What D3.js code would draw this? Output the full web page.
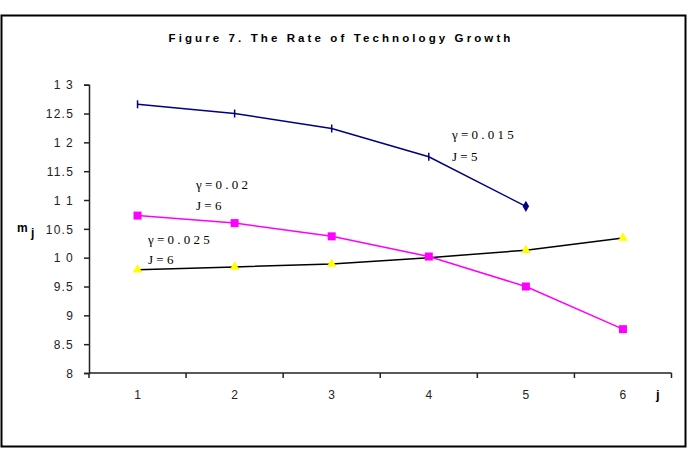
<!DOCTYPE html>
<html>
<head>
<meta charset="utf-8">
<script src="https://cdn.jsdelivr.net/npm/d3@7"></script>
<style>
  body { margin: 0; background: #fff; }
  svg { display: block; }
</style>
</head>
<body>
<svg width="688" height="450"></svg>
<script>
// Data
const periods = [1, 2, 3, 4, 5, 6];
const yTicks = [8, 8.5, 9, 9.5, 10, 10.5, 11, 11.5, 12, 12.5, 13];
const yTickLabels = ["8", "8.5", "9", "9.5", "1 0", "10.5", "1 1", "11.5", "1 2", "12.5", "1 3"];
const gamma015 = [12.66, 12.5, 12.24, 11.75, 10.89];
const gamma02 = [10.73, 10.6, 10.37, 10.02, 9.5, 8.76];
const gamma025 = [9.79, 9.84, 9.89, 10.0, 10.13, 10.34];

const sans = "'Liberation Sans', Arial, sans-serif";
const serif = "'Liberation Serif', 'Times New Roman', serif";

const svg = d3.select("svg");

// Outer frame
svg.append("rect")
    .attr("x", 1.5).attr("y", 15.5)
    .attr("width", 684).attr("height", 431)
    .attr("fill", "#fff").attr("stroke", "#000").attr("stroke-width", 2);

// Title
svg.append("text")
    .attr("x", 341).attr("y", 42)
    .attr("text-anchor", "middle")
    .style("font-family", sans)
    .style("font-size", "11.5px").style("font-weight", "bold")
    .style("letter-spacing", "3.1px")
    .text("Figure 7. The Rate of Technology Growth");

// Scales
const x = d3.scaleBand().domain(periods).range([89, 671.5]);
const y = d3.scaleLinear().domain([8, 13]).range([373, 84.7]);
const cx = d => x(d) + x.bandwidth() / 2;

const axisColor = "#222";

// Y axis
const yAxis = svg.append("g").attr("transform", "translate(89,0)")
    .call(d3.axisLeft(y).tickValues(yTicks).tickSize(5)
        .tickFormat((d, i) => yTickLabels[i]));
yAxis.select(".domain").attr("stroke", axisColor).attr("stroke-width", 1.5);
yAxis.selectAll(".tick line").attr("stroke", axisColor).attr("stroke-width", 1.5);
yAxis.selectAll(".tick text")
    .attr("x", -15)
    .attr("dy", "0.35em")
    .style("font-family", sans)
    .style("font-size", "12px")
    .style("letter-spacing", "1.2px")
    .attr("fill", "#222");

// X axis
const xAxis = svg.append("g").attr("transform", "translate(0,373)");
xAxis.append("line")
    .attr("x1", 89).attr("x2", 671.5).attr("y1", 0).attr("y2", 0)
    .attr("stroke", axisColor).attr("stroke-width", 1.5);
const bounds = periods.map(d => x(d)).concat([x(periods[periods.length - 1]) + x.bandwidth()]);
xAxis.selectAll("line.tk").data(bounds).join("line")
    .attr("class", "tk")
    .attr("x1", d => d).attr("x2", d => d)
    .attr("y1", 0).attr("y2", 5)
    .attr("stroke", axisColor).attr("stroke-width", 1.5);
xAxis.selectAll("text").data(periods).join("text")
    .attr("x", cx).attr("y", 26)
    .attr("text-anchor", "middle")
    .style("font-family", sans)
    .style("font-size", "12px")
    .attr("fill", "#222")
    .text(d => d);

// Axis titles
svg.append("text").attr("x", 17).attr("y", 232)
    .style("font-family", sans)
    .style("font-size", "12px").style("font-weight", "bold")
    .text("m");
svg.append("text").attr("x", 31).attr("y", 237)
    .style("font-family", sans)
    .style("font-size", "12px").style("font-weight", "bold")
    .text("j");
svg.append("text").attr("x", 656).attr("y", 399)
    .style("font-family", sans)
    .style("font-size", "13px").style("font-weight", "bold")
    .text("j");

const line = d3.line().x((d, i) => cx(periods[i])).y(d => y(d));

// Series gamma = 0.025 (black line, yellow triangles)
svg.append("path").datum(gamma025)
    .attr("d", line).attr("fill", "none")
    .attr("stroke", "#000").attr("stroke-width", 1.5);
svg.selectAll("path.tri").data(gamma025).join("path")
    .attr("class", "tri")
    .attr("transform", (d, i) => `translate(${cx(periods[i])},${y(d)})`)
    .attr("d", d3.symbol().type(d3.symbolTriangle).size(40))
    .attr("fill", "#ffff00");

// Series gamma = 0.02 (magenta)
svg.append("path").datum(gamma02)
    .attr("d", line).attr("fill", "none")
    .attr("stroke", "#ff00ff").attr("stroke-width", 1.5);
svg.selectAll("rect.sq").data(gamma02).join("rect")
    .attr("class", "sq")
    .attr("x", (d, i) => cx(periods[i]) - 4)
    .attr("y", d => y(d) - 4)
    .attr("width", 8).attr("height", 8)
    .attr("fill", "#ff00ff");

// Series gamma = 0.015 (navy)
svg.append("path").datum(gamma015)
    .attr("d", line).attr("fill", "none")
    .attr("stroke", "#000080").attr("stroke-width", 1.5);
svg.selectAll("line.bar").data(gamma015.slice(0, gamma015.length - 1)).join("line")
    .attr("class", "bar")
    .attr("x1", (d, i) => cx(periods[i])).attr("x2", (d, i) => cx(periods[i]))
    .attr("y1", d => y(d) - 4).attr("y2", d => y(d) + 4)
    .attr("stroke", "#000080").attr("stroke-width", 1.5);
const lastIdx = gamma015.length - 1;
svg.append("path")
    .attr("transform", `translate(${cx(periods[lastIdx])},${y(gamma015[lastIdx])})`)
    .attr("d", d3.symbol().type(d3.symbolDiamond).size(36))
    .attr("fill", "#000080");

// Annotations
const notes = [
    { t: "γ = 0 . 0 1 5", x: 452, y: 139 },
    { t: "J = 5", x: 452, y: 161 },
    { t: "γ = 0 . 0 2", x: 196, y: 189 },
    { t: "J = 6", x: 196, y: 210 },
    { t: "γ = 0 . 0 2 5", x: 148, y: 244 },
    { t: "J = 6", x: 148, y: 264 }
];
svg.selectAll("text.note").data(notes).join("text")
    .attr("class", "note")
    .attr("x", d => d.x).attr("y", d => d.y)
    .style("font-family", serif)
    .style("font-size", "13px")
    .attr("fill", "#000")
    .text(d => d.t);
</script>
</body>
</html>
